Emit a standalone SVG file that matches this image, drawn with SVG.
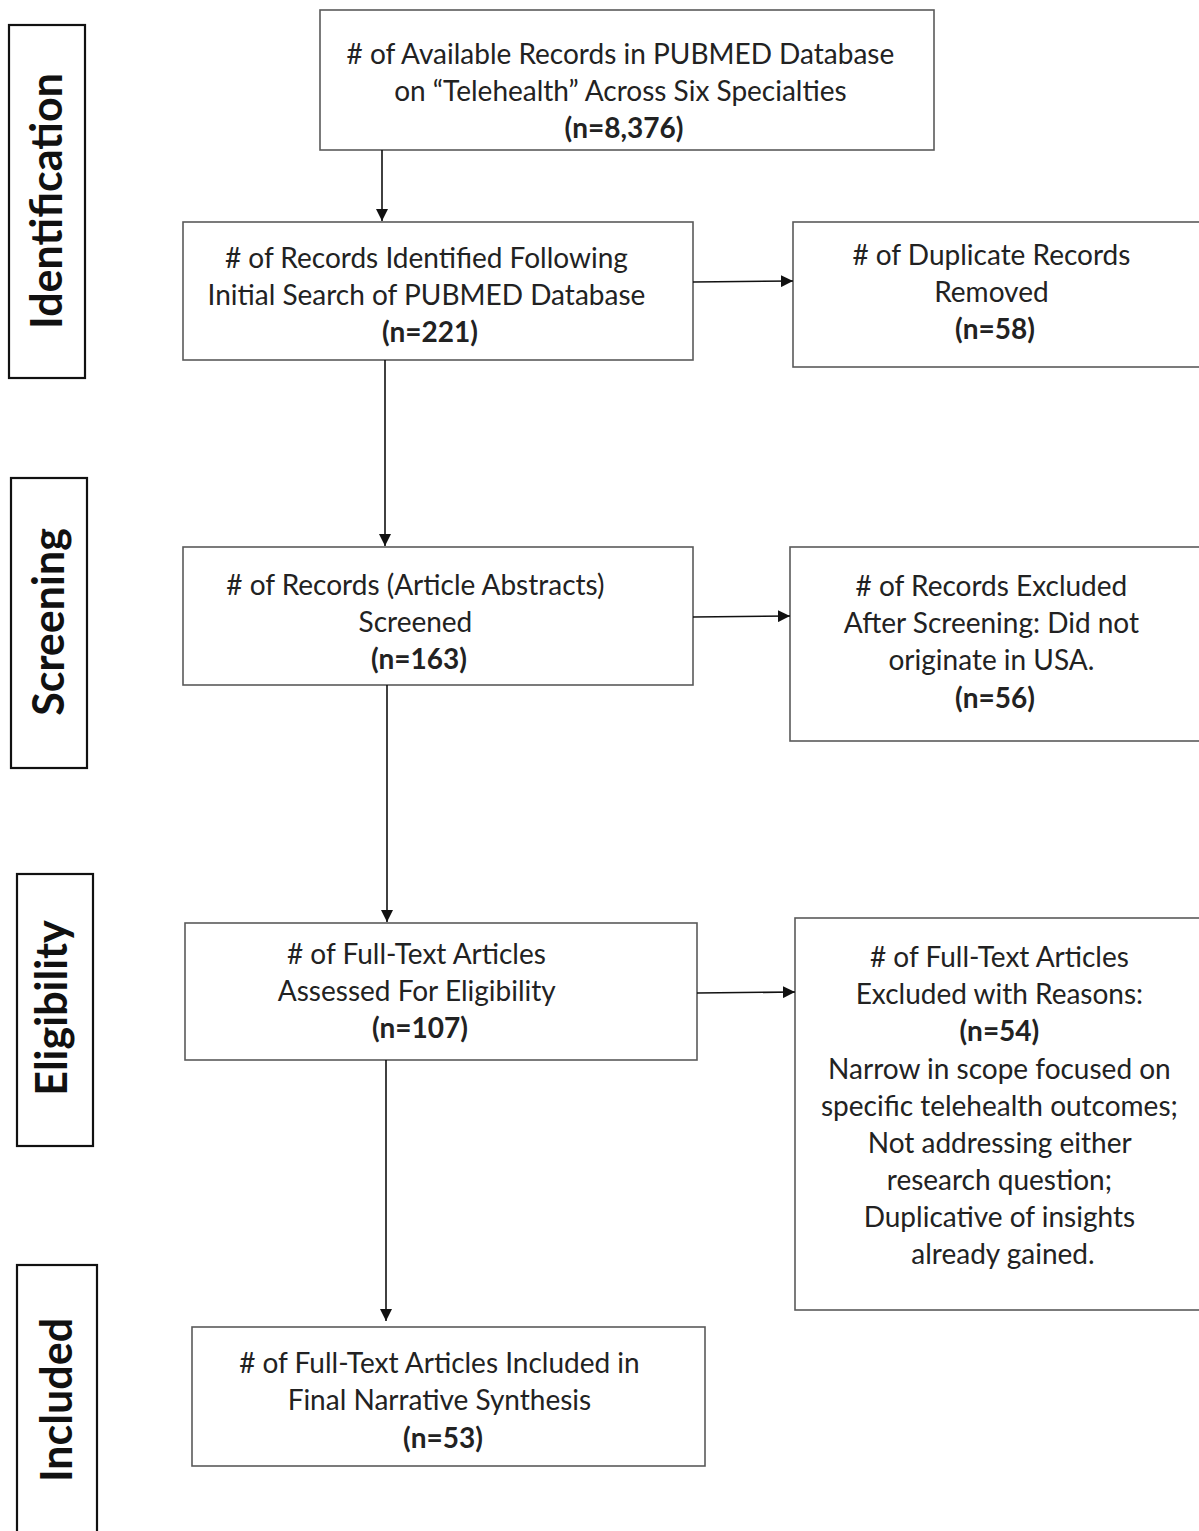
<svg xmlns="http://www.w3.org/2000/svg" width="1199" height="1531" viewBox="0 0 1199 1531">
<defs>
<style>
.box{fill:#fff;stroke:#5a5a5a;stroke-width:1.6}
.side{fill:#fff;stroke:#111;stroke-width:2.2}
.t{font-family:Lato,"Open Sans",sans-serif;font-size:28px;fill:#222;text-anchor:middle}
.b{font-weight:bold}
.s{font-family:Lato,"Open Sans",sans-serif;font-size:43px;font-weight:bold;fill:#111;text-anchor:middle}
.c{stroke:#111;stroke-width:1.6;fill:none;marker-end:url(#ah)}
</style>
<marker id="ah" viewBox="0 0 12 12" refX="12" refY="6" markerWidth="12" markerHeight="12" markerUnits="userSpaceOnUse" orient="auto">
<path d="M0,0 L12,6 L0,12 z" fill="#111"/>
</marker>
</defs>
<rect width="1199" height="1531" fill="#fff"/>

<g id="label-identification">
<rect class="side" x="9" y="25" width="76" height="353"/>
<text class="s" transform="translate(62,201) rotate(-90)">Identification</text>
</g>
<g id="label-screening">
<rect class="side" x="11" y="478" width="76" height="290"/>
<text class="s" transform="translate(64,622) rotate(-90)">Screening</text>
</g>
<g id="label-eligibility">
<rect class="side" x="17" y="874" width="76" height="272"/>
<text class="s" transform="translate(67,1008) rotate(-90)">Eligibility</text>
</g>
<g id="label-included">
<rect class="side" x="17" y="1265" width="80" height="280"/>
<text class="s" transform="translate(72,1400) rotate(-90)">Included</text>
</g>

<g id="n-available">
<rect class="box" x="320" y="10" width="614" height="140"/>
<text class="t" x="624" y="64">
<tspan x="624">&#35; of Available Records in PUBMED Database</tspan>
<tspan x="624" dy="37">on “Telehealth” Across Six Specialties</tspan>
<tspan x="624" dy="37" class="b">(n=8,376)</tspan>
</text>
</g>

<g id="n-identified">
<rect class="box" x="183" y="222" width="510" height="138"/>
<text class="t" x="430" y="268">
<tspan x="430">&#35; of Records Identified Following</tspan>
<tspan x="430" dy="37">Initial Search of PUBMED Database</tspan>
<tspan x="430" dy="37" class="b">(n=221)</tspan>
</text>
</g>

<g id="n-duplicates">
<rect class="box" x="793" y="222" width="420" height="145"/>
<text class="t" x="995" y="265">
<tspan x="995">&#35; of Duplicate Records</tspan>
<tspan x="995" dy="37">Removed</tspan>
<tspan x="995" dy="37" class="b">(n=58)</tspan>
</text>
</g>

<g id="n-screened">
<rect class="box" x="183" y="547" width="510" height="138"/>
<text class="t" x="419" y="595">
<tspan x="419">&#35; of Records (Article Abstracts)</tspan>
<tspan x="419" dy="37">Screened</tspan>
<tspan x="419" dy="37" class="b">(n=163)</tspan>
</text>
</g>

<g id="n-excluded-screening">
<rect class="box" x="790" y="547" width="420" height="194"/>
<text class="t" x="995" y="596">
<tspan x="995">&#35; of Records Excluded</tspan>
<tspan x="995" dy="37">After Screening:  Did not</tspan>
<tspan x="995" dy="37">originate in USA.</tspan>
<tspan x="995" dy="38" class="b">(n=56)</tspan>
</text>
</g>

<g id="n-fulltext">
<rect class="box" x="185" y="923" width="512" height="137"/>
<text class="t" x="420" y="964">
<tspan x="420">&#35; of Full-Text Articles</tspan>
<tspan x="420" dy="37">Assessed For Eligibility</tspan>
<tspan x="420" dy="37" class="b">(n=107)</tspan>
</text>
</g>

<g id="n-excluded-fulltext">
<rect class="box" x="795" y="918" width="420" height="392"/>
<text class="t" x="1003" y="967">
<tspan x="1003">&#35; of Full-Text Articles</tspan>
<tspan x="1003" dy="37">Excluded with Reasons:</tspan>
<tspan x="1003" dy="37" class="b">(n=54)</tspan>
<tspan x="1003" dy="38">Narrow in scope focused on</tspan>
<tspan x="1003" dy="37">specific telehealth outcomes;</tspan>
<tspan x="1003" dy="37">Not  addressing either</tspan>
<tspan x="1003" dy="37">research question;</tspan>
<tspan x="1003" dy="37">Duplicative of insights</tspan>
<tspan x="1003" dy="37">already gained.</tspan>
</text>
</g>

<g id="n-included">
<rect class="box" x="192" y="1327" width="513" height="139"/>
<text class="t" x="443" y="1373">
<tspan x="443">&#35; of Full-Text Articles Included in</tspan>
<tspan x="443" dy="37">Final Narrative Synthesis</tspan>
<tspan x="443" dy="38" class="b">(n=53)</tspan>
</text>
</g>

<g id="connectors">
<line class="c" x1="382" y1="150" x2="382" y2="221"/>
<line class="c" x1="693" y1="282" x2="793" y2="281"/>
<line class="c" x1="385" y1="360" x2="385" y2="546"/>
<line class="c" x1="693" y1="617" x2="790" y2="616"/>
<line class="c" x1="387" y1="685" x2="387" y2="922"/>
<line class="c" x1="697" y1="993" x2="795" y2="992"/>
<line class="c" x1="386" y1="1060" x2="386" y2="1321"/>
</g>
</svg>
